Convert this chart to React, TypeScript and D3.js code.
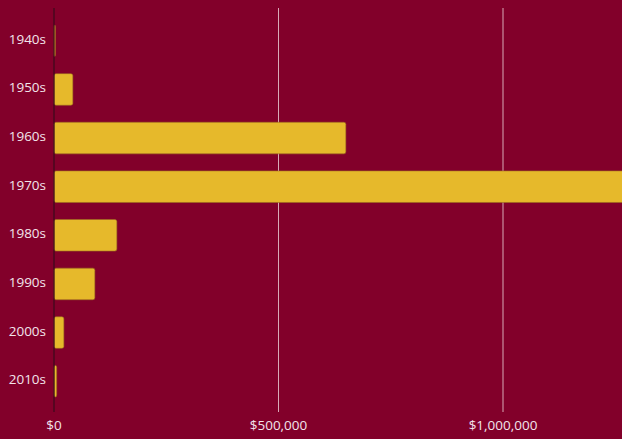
import React from "react";
import * as d3 from "d3";

const decades = ["1940s", "1950s", "1960s", "1970s", "1980s", "1990s", "2000s", "2010s"];
const values = [3000, 42000, 650000, 1300000, 140000, 91000, 22000, 6000];
const xTicks = [0, 500000, 1000000];

const W = 622;
const H = 439;
const margin = { left: 54, right: 0, top: 8, bottom: 25 };

export default function App() {
  const x = d3.scaleLinear().domain([0, 1000000]).range([margin.left, 503]);
  const y = d3
    .scaleBand<string>()
    .domain(decades)
    .range([margin.top, H - margin.bottom])
    .paddingInner(0.35)
    .paddingOuter(0.35);
  const fmt = d3.format("$,.0f");
  const bgTop = margin.top;
  const bgBottom = H - margin.bottom - 2;
  return (
    <svg
      width={W}
      height={H}
      style={{ position: "fixed", left: 0, top: 0, display: "block" }}
      fontFamily="'Open Sans', sans-serif"
    >
      <rect x={0} y={0} width={W} height={H} fill="#82002a" />
      {xTicks.slice(1).map((t) => (
        <line
          key={t}
          x1={x(t)}
          x2={x(t)}
          y1={bgTop}
          y2={bgBottom}
          stroke="#e8c8d0"
          strokeWidth={1}
          opacity={0.85}
        />
      ))}
      {decades.map((d, i) => (
        <rect
          key={d}
          x={x(0)}
          y={y(d)}
          width={Math.max(0, x(values[i]) - x(0))}
          height={y.bandwidth()}
          rx={2}
          fill="#e6b92b"
          stroke="#9a6a20"
          strokeWidth={0.6}
        />
      ))}
      <line
        x1={x(0)}
        x2={x(0)}
        y1={bgTop}
        y2={bgBottom}
        stroke="#3a0a1c"
        strokeWidth={1.2}
      />
      {decades.map((d) => (
        <text
          key={d}
          x={46}
          y={(y(d) ?? 0) + y.bandwidth() / 2}
          dy="0.22em"
          textAnchor="end"
          fontSize={13.5}
          fill="#f2e4ea"
        >
          {d}
        </text>
      ))}
      {xTicks.map((t) => (
        <text
          key={t}
          x={x(t)}
          y={430}
          textAnchor="middle"
          fontSize={13.5}
          fill="#f2e4ea"
        >
          {fmt(t)}
        </text>
      ))}
    </svg>
  );
}
